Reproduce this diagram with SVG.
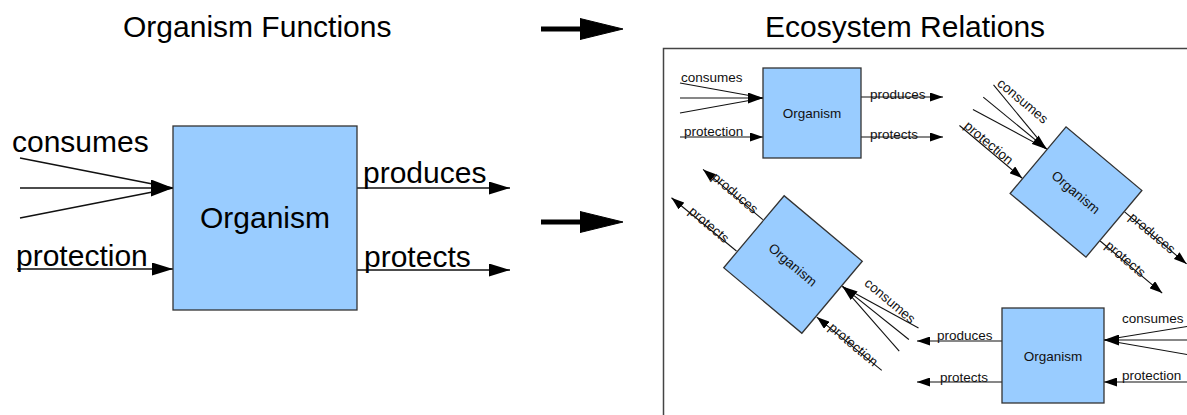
<svg xmlns="http://www.w3.org/2000/svg" width="1187" height="415" viewBox="0 0 1187 415">
<style>
  .title { font-family: "Liberation Sans", Arial, sans-serif; font-size: 30px; fill: #000; }
  .big { font-family: "Liberation Sans", Arial, sans-serif; font-size: 30px; fill: #000; }
  .sm { font-family: "Liberation Sans", Arial, sans-serif; font-size: 13.5px; fill: #111; }
  .mid { text-anchor: middle; }
  .box { fill: #99ccff; stroke: #333; stroke-width: 1.3; }
  .lb { stroke: #111; stroke-width: 1.5; fill: none; }
  .ls { stroke: #111; stroke-width: 1.1; fill: none; }
  .fat { stroke: #000; stroke-width: 5; fill: none; }
  .frame { fill: none; stroke: #444; stroke-width: 1.5; }
</style>
<defs>
  <marker id="ab" viewBox="0 0 21 13" refX="21" refY="6.5" markerWidth="21" markerHeight="13" markerUnits="userSpaceOnUse" orient="auto">
    <path d="M0,0 L21,6.5 L0,13 z" fill="#000"/>
  </marker>
  <marker id="abc" viewBox="0 0 22 17" refX="22" refY="8.5" markerWidth="22" markerHeight="17" markerUnits="userSpaceOnUse" orient="auto">
    <path d="M0,0 L22,8.5 L0,17 z" fill="#000"/>
  </marker>
  <marker id="as" viewBox="0 0 13 9" refX="13" refY="4.5" markerWidth="13" markerHeight="9" markerUnits="userSpaceOnUse" orient="auto">
    <path d="M0,0 L13,4.5 L0,9 z" fill="#000"/>
  </marker>
  <marker id="asc" viewBox="0 0 15 11" refX="15" refY="5.5" markerWidth="15" markerHeight="11" markerUnits="userSpaceOnUse" orient="auto">
    <path d="M0,0 L15,5.5 L0,11 z" fill="#000"/>
  </marker>
  <marker id="af" viewBox="0 0 43 22" refX="10" refY="11" markerWidth="43" markerHeight="22" markerUnits="userSpaceOnUse" orient="auto">
    <path d="M0,0.5 L43,11 L0,21.5 z" fill="#000" stroke="#000" stroke-width="1" stroke-linejoin="round"/>
  </marker>
</defs>
<rect width="1187" height="415" fill="#fff"/>

<text class="title" x="123" y="37">Organism Functions</text>
<text class="title" x="765" y="37">Ecosystem Relations</text>
<rect class="frame" x="663.5" y="48.5" width="600" height="400"/>

<g id="transition-arrows">
  <line class="fat" x1="541" y1="29" x2="590" y2="29" marker-end="url(#af)"/>
  <line class="fat" x1="541" y1="222" x2="590" y2="222" marker-end="url(#af)"/>
</g>

<!-- Main organism -->
<g id="main-connectors">
  <line class="lb" x1="20" y1="158" x2="173" y2="188"/>
  <line class="lb" x1="20" y1="218" x2="173" y2="188"/>
  <line class="lb" x1="20" y1="188" x2="173" y2="188" marker-end="url(#abc)"/>
  <line class="lb" x1="17" y1="269" x2="173" y2="269" marker-end="url(#ab)"/>
  <line class="lb" x1="357" y1="188" x2="510" y2="188" marker-end="url(#ab)"/>
  <line class="lb" x1="357" y1="270" x2="510" y2="270" marker-end="url(#ab)"/>
</g>
<g id="main-organism">
  <rect class="box" x="173" y="126" width="184" height="184"/>
  <text class="big mid" x="265" y="228">Organism</text>
</g>
<g id="main-labels">
  <text class="big" x="12" y="152">consumes</text>
  <text class="big" x="16" y="266">protection</text>
  <text class="big" x="363" y="183">produces</text>
  <text class="big" x="364" y="267">protects</text>
</g>

<!-- Ecosystem: top organism -->
<g id="eco-top" transform="translate(812,113)">
  <g class="connectors">
    <line class="ls" x1="-132" y1="-30" x2="-49" y2="-15"/>
    <line class="ls" x1="-132" y1="0" x2="-49" y2="-15"/>
    <line class="ls" x1="-132" y1="-15" x2="-49" y2="-15" marker-end="url(#asc)"/>
    <line class="ls" x1="-132" y1="24" x2="-49" y2="24" marker-end="url(#as)"/>
    <line class="ls" x1="49" y1="-16" x2="131" y2="-16" marker-end="url(#as)"/>
    <line class="ls" x1="49" y1="24" x2="131" y2="24" marker-end="url(#as)"/>
  </g>
  <rect class="box" x="-49" y="-45" width="98" height="90"/>
  <text class="sm mid" x="0" y="5">Organism</text>
  <text class="sm" x="-131" y="-31">consumes</text>
  <text class="sm" x="-128" y="23">protection</text>
  <text class="sm" x="58" y="-14">produces</text>
  <text class="sm" x="58" y="26">protects</text>
</g>

<!-- Ecosystem: upper-right rotated organism -->
<g id="eco-right" transform="translate(1076,192) rotate(40)">
  <g class="connectors">
    <line class="ls" x1="-132" y1="-29" x2="-50" y2="-14"/>
    <line class="ls" x1="-132" y1="3" x2="-50" y2="-14"/>
    <line class="ls" x1="-132" y1="-13" x2="-50" y2="-14" marker-end="url(#asc)"/>
    <line class="ls" x1="-132" y1="24" x2="-50" y2="24" marker-end="url(#as)"/>
    <line class="ls" x1="50" y1="-16" x2="131" y2="-16" marker-end="url(#as)"/>
    <line class="ls" x1="50" y1="22" x2="131" y2="22" marker-end="url(#as)"/>
  </g>
  <rect class="box" x="-49.5" y="-43.5" width="99" height="87"/>
  <text class="sm mid" x="0" y="5">Organism</text>
  <text class="sm" x="-130" y="-31">consumes</text>
  <text class="sm" x="-128" y="23">protection</text>
  <text class="sm" x="57" y="-13">produces</text>
  <text class="sm" x="57" y="24">protects</text>
</g>

<!-- Ecosystem: lower-left rotated organism -->
<g id="eco-left" transform="translate(793,264.5) rotate(40)">
  <g class="connectors">
    <line class="ls" x1="137" y1="-32" x2="52" y2="-15"/>
    <line class="ls" x1="137" y1="-2" x2="52" y2="-15"/>
    <line class="ls" x1="137" y1="-17" x2="52" y2="-15" marker-end="url(#asc)"/>
    <line class="ls" x1="136" y1="24" x2="52" y2="25" marker-end="url(#as)"/>
    <line class="ls" x1="-52" y1="-15" x2="-130" y2="-15" marker-end="url(#as)"/>
    <line class="ls" x1="-52" y1="26" x2="-136" y2="27" marker-end="url(#as)"/>
  </g>
  <rect class="box" x="-51" y="-47" width="102" height="94"/>
  <text class="sm mid" x="0" y="5">Organism</text>
  <text class="sm" x="67" y="-30">consumes</text>
  <text class="sm" x="68" y="27">protection</text>
  <text class="sm" x="-118" y="-13">produces</text>
  <text class="sm" x="-114" y="28">protects</text>
</g>

<!-- Ecosystem: bottom-right organism -->
<g id="eco-bottom">
  <g class="connectors">
    <line class="ls" x1="1190" y1="326" x2="1104" y2="340"/>
    <line class="ls" x1="1190" y1="355" x2="1104" y2="340"/>
    <line class="ls" x1="1190" y1="340" x2="1104" y2="340" marker-end="url(#asc)"/>
    <line class="ls" x1="1190" y1="382" x2="1104" y2="382" marker-end="url(#as)"/>
    <line class="ls" x1="1002" y1="341" x2="917" y2="341" marker-end="url(#as)"/>
    <line class="ls" x1="1002" y1="382" x2="917" y2="382" marker-end="url(#as)"/>
  </g>
  <rect class="box" x="1002" y="308" width="102" height="95"/>
  <text class="sm mid" x="1053" y="361">Organism</text>
  <text class="sm" x="1122" y="323">consumes</text>
  <text class="sm" x="1122" y="380">protection</text>
  <text class="sm" x="937" y="340">produces</text>
  <text class="sm" x="940" y="382">protects</text>
</g>
</svg>
